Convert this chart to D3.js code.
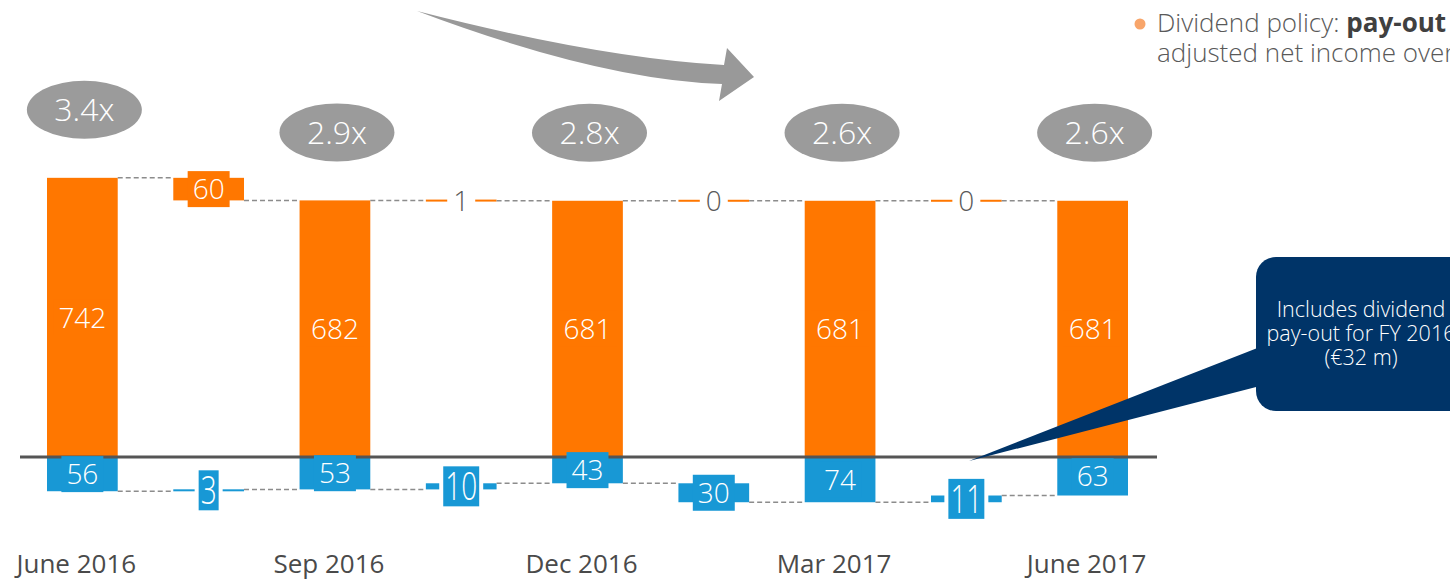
<!DOCTYPE html>
<html>
<head>
<meta charset="utf-8">
<script src="https://cdn.jsdelivr.net/npm/d3@7/dist/d3.min.js"></script>
<style>
  body { margin: 0; background: #fff; overflow: hidden; }
  svg { display: block; font-family: "Open Sans", "DejaVu Sans", sans-serif; }
</style>
</head>
<body>
<div id="chart"></div>
<script>
// values (EUR m)
var periods = ["June 2016", "Sep 2016", "Dec 2016", "Mar 2017", "June 2017"];
var debtTotals = [742, 682, 681, 681, 681];
var debtChanges = [60, 1, 0, 0];
var cashTotals = [56, 53, 43, 74, 63];
var cashChanges = [3, 10, 30, 11];
var leverage = ["3.4x", "2.9x", "2.8x", "2.6x", "2.6x"];

var width = 1450,
    height = 580,
    axisY = 457;

var orange = "#ff7700",
    blue = "#1898d5",
    grey = "#9b9b9b";

var svg = d3.select("#chart")
    .append("svg")
    .attr("width", width)
    .attr("height", height);

// 9 slots: total, change, total, change ...
var x = d3.scaleBand()
    .domain(d3.range(9))
    .range([47, 1128])
    .paddingInner(0.44);
var bw = x.bandwidth();

// debt goes up from the axis, cash goes down (own scale)
var yUp = d3.scaleLinear().domain([0, 800]).range([axisY, axisY - 301]);
var yDown = d3.scaleLinear().domain([0, 80]).range([axisY, axisY + 48.9]);

var series = [
    { key: "debt", totals: debtTotals, changes: debtChanges, y: yUp, color: orange },
    { key: "cash", totals: cashTotals, changes: cashChanges, y: yDown, color: blue }
];

var gBars = svg.append("g");
var gAxis = svg.append("g");
var gLines = svg.append("g");
var gLabels = svg.append("g");

var labels = [];

series.forEach(function(s) {
    var y = s.y;

    // totals
    s.totals.forEach(function(v, i) {
        var y0 = y(0), y1 = y(v);
        gBars.append("rect")
            .attr("x", x(2 * i))
            .attr("y", Math.min(y0, y1))
            .attr("width", bw)
            .attr("height", Math.abs(y1 - y0))
            .attr("fill", s.color);
        labels.push({ cx: x(2 * i) + bw / 2, cy: (y0 + y1) / 2, text: v, s: s, style: "normal" });
    });

    // changes, floating between two totals
    s.changes.forEach(function(v, i) {
        var a = y(s.totals[i]), b = y(s.totals[i + 1]);
        var h = Math.abs(b - a);
        var top = Math.min(a, b);
        var hh = Math.max(h, 2);
        gBars.append("rect")
            .attr("x", x(2 * i + 1))
            .attr("y", top - (hh - h) / 2)
            .attr("width", bw)
            .attr("height", hh)
            .attr("fill", s.color);

        var style = "normal";
        if (h < 3 && s.key === "debt") style = "plain";
        else if (h < 10) style = "tall";
        labels.push({ cx: x(2 * i + 1) + bw / 2, cy: top + h / 2, text: v, s: s, style: style });

        // dashed connectors
        gLines.append("line")
            .attr("x1", x(2 * i) + bw).attr("x2", x(2 * i + 1))
            .attr("y1", a).attr("y2", a);
        gLines.append("line")
            .attr("x1", x(2 * i + 1) + bw).attr("x2", x(2 * i + 2))
            .attr("y1", b).attr("y2", b);
    });
});

gLines.selectAll("line")
    .attr("stroke", "#8c8c8c")
    .attr("stroke-width", 1.5)
    .attr("stroke-dasharray", "5,3");

// zero line
gAxis.append("line")
    .attr("x1", 20).attr("x2", 1157)
    .attr("y1", axisY).attr("y2", axisY)
    .attr("stroke", "#555")
    .attr("stroke-width", 3);

// data labels with a coloured box behind them
labels.forEach(function(d) {
    var g = gLabels.append("g").attr("transform", "translate(" + d.cx + "," + d.cy + ")");
    var halo = g.append("rect");
    var box = g.append("rect");
    var t = g.append("text")
        .text(d.text)
        .attr("text-anchor", "middle")
        .attr("dy", "0.36em")
        .style("font-size", "28px")
        .style("font-weight", 300)
        .attr("fill", "#fff");
    var len = t.node().getComputedTextLength();

    if (d.style === "plain") {
        t.attr("fill", "#595959");
        box.attr("x", -len / 2 - 6).attr("y", -15).attr("width", len + 12).attr("height", 30)
            .attr("fill", "#fff");
    } else if (d.style === "tall") {
        t.attr("transform", "scale(1,1.4)");
        var w = len + 4;
        halo.attr("x", -w / 2 - 4).attr("y", -20).attr("width", w + 8).attr("height", 40)
            .attr("fill", "#fff");
        box.attr("x", -w / 2).attr("y", -20).attr("width", w).attr("height", 40)
            .attr("fill", d.s.color);
    } else {
        box.attr("x", -len / 2 - 5).attr("y", -18).attr("width", len + 10).attr("height", 36)
            .attr("fill", d.s.color);
    }
});

// period labels
svg.append("g").selectAll("text")
    .data(periods)
    .enter()
    .append("text")
    .attr("x", function(d, i) { return x(2 * i) + bw / 2 - 6; })
    .attr("y", 573)
    .attr("text-anchor", "middle")
    .style("font-size", "26px")
    .style("font-weight", 400)
    .attr("fill", "#4a4a4a")
    .text(function(d) { return d; });

// leverage bubbles above each total
var bub = svg.append("g").selectAll("g")
    .data(leverage)
    .enter()
    .append("g")
    .attr("transform", function(d, i) {
        return "translate(" + (x(2 * i) + bw / 2 + 2) + "," + (yUp(debtTotals[i]) - 68) + ")";
    });
bub.append("ellipse")
    .attr("rx", 57.5)
    .attr("ry", 29)
    .attr("fill", grey);
bub.append("text")
    .attr("text-anchor", "middle")
    .attr("dy", "0.36em")
    .style("font-size", "32px")
    .style("font-weight", 300)
    .attr("fill", "#fff")
    .text(function(d) { return d; });

// curved trend arrow
svg.append("path")
    .attr("d", "M417,11 Q600,58 724,65 L727,48 L754,77 L719,101 L722,84 Q600,80 417,11 Z")
    .attr("fill", "#999");

// callout
var callout = svg.append("g");
callout.append("path")
    .attr("d", "M1260,347 L969,461 L1260,386 Z")
    .attr("fill", "#003468");
callout.append("rect")
    .attr("x", 1256).attr("y", 257)
    .attr("width", 212).attr("height", 154)
    .attr("rx", 20)
    .attr("fill", "#003468");
callout.selectAll("text")
    .data(["Includes dividend", "pay-out for FY 2016", "(\u20ac32 m)"])
    .enter()
    .append("text")
    .attr("x", 1361)
    .attr("y", function(d, i) { return 317 + i * 24; })
    .attr("text-anchor", "middle")
    .style("font-size", "21.5px")
    .style("font-weight", 300)
    .attr("fill", "#fff")
    .text(function(d) { return d; });

// note top right
svg.append("circle")
    .attr("cx", 1140).attr("cy", 24).attr("r", 5.5)
    .attr("fill", "#f8a56a");
var note1 = svg.append("text")
    .attr("x", 1157).attr("y", 32)
    .style("font-size", "26px")
    .style("font-weight", 300)
    .attr("fill", "#595959")
    .text("Dividend policy:");
var nx = 1157 + note1.node().getComputedTextLength() + 7;
svg.append("text")
    .attr("x", nx).attr("y", 32)
    .style("font-size", "26px")
    .style("font-weight", 700)
    .attr("fill", "#404040")
    .text("pay-out");
svg.append("text")
    .attr("x", 1157).attr("y", 62)
    .style("font-size", "26px")
    .style("font-weight", 300)
    .attr("fill", "#595959")
    .text("adjusted net income over");
</script>
</body>
</html>
